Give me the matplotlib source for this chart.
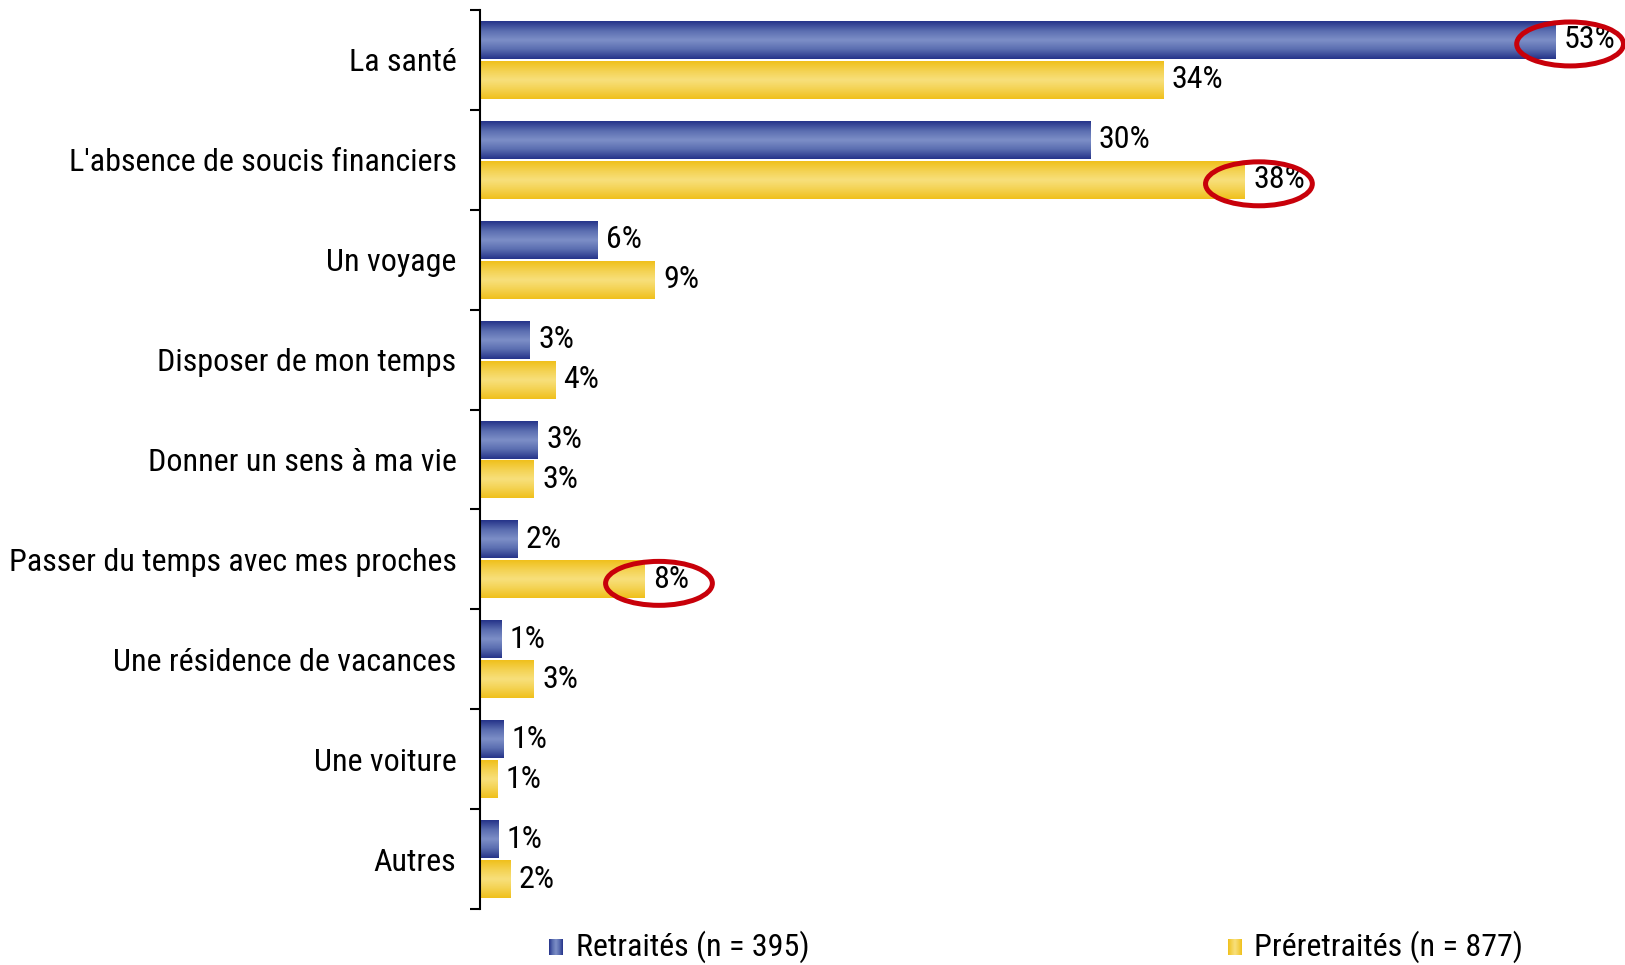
import matplotlib
matplotlib.use("Agg")
import matplotlib.pyplot as plt
import numpy as np
from matplotlib.patches import Ellipse
from matplotlib.colors import LinearSegmentedColormap
from matplotlib import font_manager

categories = ["La santé", "L'absence de soucis financiers", "Un voyage",
              "Disposer de mon temps", "Donner un sens à ma vie",
              "Passer du temps avec mes proches", "Une résidence de vacances",
              "Une voiture", "Autres"]
retraites = [52.9, 30.0, 5.8, 2.45, 2.85, 1.85, 1.05, 1.15, 0.9]
preretraites = [33.6, 37.6, 8.6, 3.7, 2.65, 8.1, 2.65, 0.85, 1.5]
retraites_labels = [53, 30, 6, 3, 3, 2, 1, 1, 1]
preretraites_labels = [34, 38, 9, 4, 3, 8, 3, 1, 2]
series_names = ["Retraités (n = 395)", "Préretraités (n = 877)"]
# highlighted (series index, category index)
highlights = [(0, 0), (1, 1), (1, 5)]

names = {f.name for f in font_manager.fontManager.ttflist}
fam = "DejaVu Sans"
for cand in ["Arial Narrow", "Liberation Sans Narrow", "Roboto Condensed",
             "Archivo Narrow", "PT Sans Narrow", "Barlow Semi Condensed"]:
    if cand in names:
        fam = cand
        break
plt.rcParams['font.family'] = [fam, 'DejaVu Sans']

fig = plt.figure(figsize=(16.25, 9.65), dpi=100)
ax = fig.add_axes([480/1625, 1-909/965, 1-480/1625, (909-10)/965])

blue_cmap = LinearSegmentedColormap.from_list("b", ["#26348a", "#5a6db0", "#7d8fc7", "#5a6db0", "#26348a"])
yel_cmap = LinearSegmentedColormap.from_list("y", ["#f0c01c", "#f4d251", "#f8e07c", "#f4d251", "#f0c01c"])

y = np.arange(len(categories))
h = 0.38
off = 0.2
grad = np.linspace(0, 1, 64).reshape(-1, 1)

def gradbars(vals, ypos, cmap):
    bars = ax.barh(ypos, vals, height=h, color='none', edgecolor='none')
    for b in bars:
        x0, y0 = b.get_x(), b.get_y()
        w, hh = b.get_width(), b.get_height()
        im = ax.imshow(grad, cmap=cmap, aspect='auto',
                       extent=[x0, x0 + w, y0 + hh, y0], zorder=2,
                       interpolation='bicubic')
        im.set_clip_path(b)
    return bars

gradbars(retraites, y - off, blue_cmap)
gradbars(preretraites, y + off, yel_cmap)

fs = 23
for i in range(len(categories)):
    ax.annotate(f"{retraites_labels[i]}%", (retraites[i], y[i] - off),
                xytext=(6, 0), textcoords='offset points', va='center', ha='left',
                fontsize=fs, zorder=5)
    ax.annotate(f"{preretraites_labels[i]}%", (preretraites[i], y[i] + off),
                xytext=(6, 0), textcoords='offset points', va='center', ha='left',
                fontsize=fs, zorder=5)

series_vals = [retraites, preretraites]
for s, c in highlights:
    v = series_vals[s][c]
    yy = y[c] + (-off if s == 0 else off)
    e = Ellipse((v + 0.7, yy + 0.04), width=5.25, height=0.44, fill=False,
                edgecolor='#c8000a', linewidth=3.6, zorder=6, clip_on=False)
    ax.add_patch(e)

ax.set_xlim(0, 56.3)
ax.set_ylim(len(categories) - 0.5, -0.5)
ax.set_yticks(y)
ax.set_yticklabels(categories, fontsize=fs)
ax.tick_params(axis='y', which='major', length=0, pad=17)
ax.set_yticks(np.arange(-0.5, len(categories)), minor=True)
ax.tick_params(axis='y', which='minor', length=7, width=1.5, direction='out')
ax.set_xticks([])
for sp in ['top', 'right', 'bottom']:
    ax.spines[sp].set_visible(False)
ax.spines['left'].set_linewidth(1.5)

# legend
leg_y = 947
for (xsq, xtxt, cm, name) in [(549, 576, blue_cmap, series_names[0]),
                               (1228, 1254, yel_cmap, series_names[1])]:
    axl = fig.add_axes([xsq/1625, 1-(leg_y+8)/965, 14/1625, 16/965])
    axl.imshow(grad.T, cmap=cm, aspect='auto', extent=[0, 1, 1, 0])
    axl.axis('off')
    fig.text(xtxt/1625, 1-leg_y/965, name, fontsize=fs, va='center', ha='left')

fig.savefig("out.png", dpi=100)
